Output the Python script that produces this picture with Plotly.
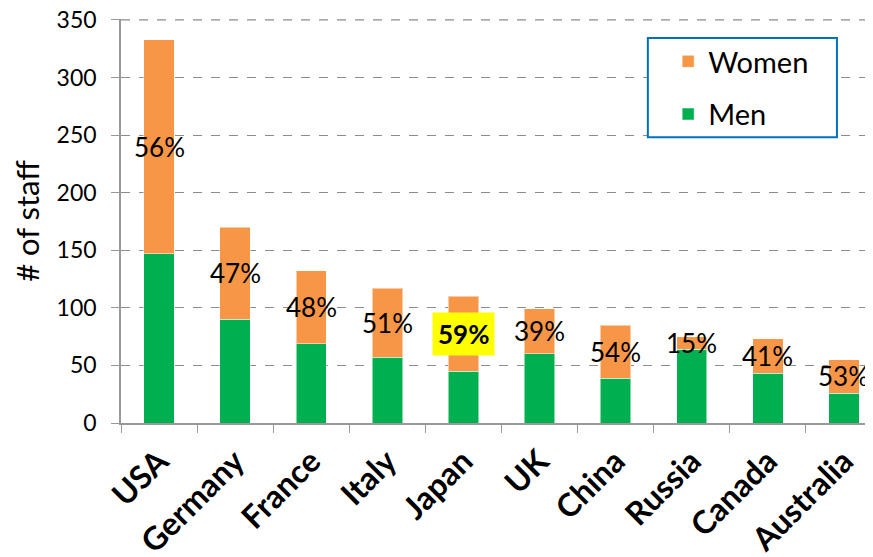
"""Staff by country, stacked men/women bars with women share labels."""

import plotly.graph_objects as go

countries = ["USA", "Germany", "France", "Italy", "Japan", "UK", "China", "Russia", "Canada", "Australia"]
men = [147, 90, 69, 57, 45, 60, 39, 64, 43, 26]
women = [186, 80, 63, 60, 65, 39, 46, 11, 30, 29]
highlight = "Japan"
y_max = 350

ORANGE = "#F79646"
GREEN = "#00B050"
GRID = "#8c8c8c"
FONT = "Lato, 'Open Sans', sans-serif"

fig = go.Figure()
fig.add_trace(
    go.Bar(
        name="Men", x=countries, y=men,
        marker=dict(color=GREEN, line=dict(color="rgba(255,255,255,0.5)", width=1)),
        legendgroup="m", legendrank=2,
    )
)
fig.add_trace(
    go.Bar(
        name="Women", x=countries, y=women,
        marker=dict(color=ORANGE, line=dict(color="rgba(255,255,255,0.5)", width=1)),
        legendgroup="w", legendrank=1,
    )
)

# women share label, centred on the women segment
for c, m, w in zip(countries, men, women):
    pct = round(100 * w / (m + w))
    hot = c == highlight
    fig.add_annotation(
        x=c, y=m + w / 2,
        text=f"<b>{pct}%</b>" if hot else f"{pct}%",
        showarrow=False,
        font=dict(size=26, color="black", family=FONT),
        bgcolor="#FFFF00" if hot else None,
        borderpad=5 if hot else 0,
    )

# top gridline sits on the plot edge and plotly drops it, so draw it
fig.add_shape(
    type="line", xref="paper", yref="y", x0=0, x1=1, y0=y_max, y1=y_max,
    line=dict(color=GRID, width=1.3, dash="dash"), layer="below",
)

# legend frame
fig.add_shape(
    type="rect", xref="paper", yref="paper",
    x0=0.6923, x1=0.9408, y0=0.7074, y1=0.953,
    line=dict(color="#0070C0", width=2), fillcolor="white", layer="above",
)

# page has an 8px body margin, so the figure is offset accordingly
fig.update_layout(
    width=874,
    height=557,
    barmode="stack",
    bargap=0.6,
    margin=dict(l=113, r=0, t=11, b=142),
    paper_bgcolor="white",
    plot_bgcolor="white",
    font=dict(family=FONT, size=23, color="black"),
    showlegend=True,
    legend=dict(
        x=0.719, y=0.958, xanchor="left", yanchor="top",
        traceorder="grouped",
        tracegroupgap=12,
        font=dict(size=29),
        bgcolor="rgba(0,0,0,0)",
    ),
)
fig.update_xaxes(
    range=[-0.5, 9.5],
    automargin=False,
    tickson="boundaries",
    ticks="outside", ticklen=8, tickcolor="#999999",
    showline=True, linecolor="#999999", linewidth=1.5,
    tickangle=-45,
    tickfont=dict(size=32, family=FONT, weight="bold"),
    ticklabelstandoff=5,
    ticklabeloverflow="allow",
    showgrid=False,
)
fig.update_yaxes(
    range=[0, y_max + 0.8],
    automargin=False,
    tick0=0, dtick=50,
    ticks="outside", ticklen=8, tickcolor="#999999",
    showline=True, linecolor="#999999", linewidth=1.5,
    showgrid=True, gridcolor=GRID, griddash="dash", gridwidth=1.3,
    zeroline=False,
    tickfont=dict(size=23),
    ticklabelstandoff=10,
    ticklabeloverflow="allow",
    title=dict(text="# of staff", font=dict(size=31), standoff=14),
)

fig.write_html("out.html")
